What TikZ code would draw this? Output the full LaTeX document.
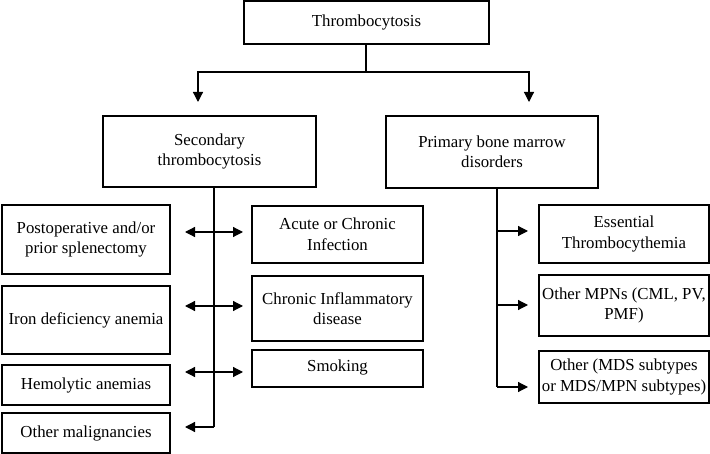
\documentclass[tikz,border=0pt]{standalone}
\usepackage{fontspec}
\setmainfont{Liberation Serif}
\usetikzlibrary{arrows.meta}
\begin{document}
\begin{tikzpicture}[x=1pt,y=-1pt,
  box/.style={draw, line width=1.4pt, align=center, inner sep=1pt, font=\fontsize{16.8}{20.5}\selectfont},
  conn/.style={line width=1.2pt},
  arr/.style={conn, -{Triangle[length=10pt,width=10pt]}},
  darr/.style={conn, {Triangle[length=10pt,width=10pt]}-{Triangle[length=10pt,width=10pt]}}]
\useasboundingbox (0,0) rectangle (710,454);
\node[box, minimum width=245pt, minimum height=43pt] (top) at (366.5,22.5) {Thrombocytosis};
\node[box, minimum width=213pt, minimum height=71pt] (sec) at (209.5,151.5) {Secondary\\thrombocytosis};
\node[box, minimum width=212pt, minimum height=72pt] (prim) at (492,152) {Primary bone marrow\\disorders};
\node[box, minimum width=168pt, minimum height=69pt] (post) at (86,239.5) {Postoperative and/or\\prior splenectomy};
\node[box, minimum width=168pt, minimum height=68pt] (iron) at (86,320) {Iron deficiency anemia};
\node[box, minimum width=168pt, minimum height=40pt] (hemo) at (86,385) {Hemolytic anemias};
\node[box, minimum width=168pt, minimum height=40pt] (omal) at (86,433) {Other malignancies};
\node[box, minimum width=171pt, minimum height=57pt] (acute) at (337.5,234.5) {Acute or Chronic\\Infection};
\node[box, minimum width=171pt, minimum height=65pt] (chron) at (337.5,308.5) {Chronic Inflammatory\\disease};
\node[box, minimum width=171pt, minimum height=37pt, text depth=6pt] (smok) at (337.5,368.5) {Smoking};
\node[box, minimum width=170pt, minimum height=58pt] (ess) at (624,234) {Essential\\Thrombocythemia};
\node[box, minimum width=170pt, minimum height=61pt] (mpn) at (624,305.5) {Other MPNs (CML, PV,\\PMF)};
\node[box, minimum width=170pt, minimum height=52pt] (mds) at (624,377) {Other (MDS subtypes\\or MDS/MPN subtypes)};
% top split
\coordinate (j) at (366,72);
\coordinate (a1) at (198,102);
\coordinate (a2) at (529,102);
\draw[conn] (top.south -| j) -- (j);
\draw[arr] (j) -| (a1);
\draw[arr] (j) -| (a2);
% secondary trunk
\coordinate (st) at (214,427);
\coordinate (L4) at (185,427);
\draw[conn] (sec.south -| st) -- (st);
\draw[arr] (st) -- (L4);
\coordinate (L1) at (185,232); \coordinate (R1) at (243,232);
\coordinate (L2) at (185,306); \coordinate (R2) at (243,306);
\coordinate (L3) at (185,372); \coordinate (R3) at (243,372);
\draw[darr] (L1) -- (R1);
\draw[darr] (L2) -- (R2);
\draw[darr] (L3) -- (R3);
% primary trunk
\coordinate (pt) at (497,387);
\draw[conn] (prim.south -| pt) -- (pt);
\coordinate (P1) at (497,231); \coordinate (Q1) at (528,231);
\coordinate (P2) at (497,305); \coordinate (Q2) at (528,305);
\coordinate (Q3) at (528,387);
\draw[arr] (P1) -- (Q1);
\draw[arr] (P2) -- (Q2);
\draw[arr] (pt) -- (Q3);
\end{tikzpicture}
\end{document}
